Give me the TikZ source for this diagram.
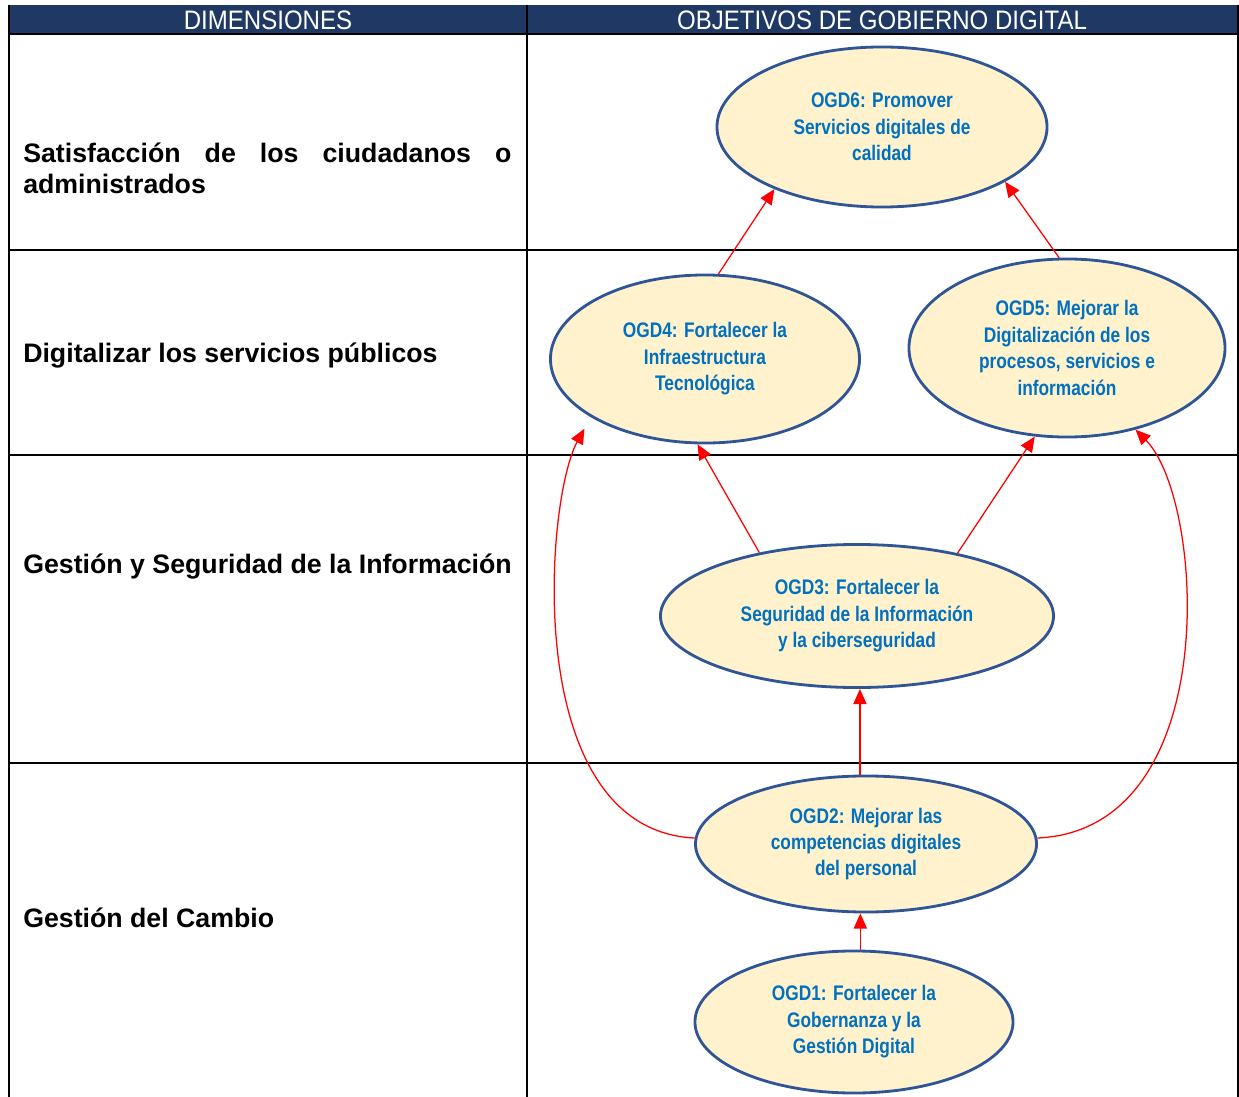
\documentclass[tikz,border=0pt]{standalone}
\usepackage{fontspec}
\setmainfont{Liberation Sans}
\newfontfamily\narrowfont[FakeStretch=0.82]{Liberation Sans}
\newfontfamily\headfont[FakeStretch=0.9]{Liberation Sans}
\usetikzlibrary{shapes.geometric,arrows.meta}
\definecolor{headblue}{RGB}{31,56,100}
\definecolor{ogdfill}{RGB}{255,242,204}
\definecolor{ogdline}{RGB}{47,85,151}
\definecolor{ogdtext}{RGB}{0,112,192}
\hyphenpenalty=10000
\exhyphenpenalty=10000

\begin{document}
\begin{tikzpicture}[x=0.025cm,y=-0.025cm]
\tikzstyle{ogd}=[ellipse,draw=ogdline,line width=2pt,fill=ogdfill,inner sep=0pt,
  text=ogdtext,align=center,font=\narrowfont\bfseries\fontsize{15pt}{18.8pt}\selectfont]
\tikzstyle{dim}=[anchor=west,inner sep=0pt,font=\bfseries\fontsize{19pt}{22pt}\selectfont]
\tikzstyle{head}=[text=white,inner sep=0pt,font=\headfont\fontsize{19pt}{20pt}\selectfont]
\tikzstyle{link}=[red,line width=0.9pt,-{Triangle[length=0.38cm,width=0.33cm]}]
\tikzstyle{rule}=[line width=1.4pt]

\useasboundingbox (0,0) rectangle (1239,1097);

\fill[headblue] (9,5) rectangle (1238,34);
\draw[rule] (9,5) -- (9,1097);
\draw[rule] (527,5) -- (527,1097);
\draw[rule] (1238,5) -- (1238,1097);
\draw[rule] (9,34) -- (1238,34);
\draw[rule] (9,250) -- (1238,250);
\draw[rule] (9,455) -- (1238,455);
\draw[rule] (9,763) -- (1238,763);

\node[head] (hdim) at (268,20) {DIMENSIONES};
\node[head] (hobj) at (882,20) {OBJETIVOS DE GOBIERNO DIGITAL};

\node[dim,text width=12.2cm,align=justify] (dim1) at (23,168)
  {Satisfacción de los ciudadanos o administrados};
\node[dim] (dim2) at (23,356) {Digitalizar los servicios públicos};
\node[dim] (dim3) at (23,567) {Gestión y Seguridad de la Información};
\node[dim] (dim4) at (23,918) {Gestión del Cambio};

\node[ogd,minimum width=8.25cm,minimum height=4cm] (ogd6) at (882,127)
  {OGD6: Promover\\Servicios digitales de\\calidad};
\node[ogd,minimum width=7.725cm,minimum height=4.2cm] (ogd4) at (705,359)
  {OGD4: Fortalecer la\\Infraestructura\\Tecnológica};
\node[ogd,minimum width=7.9cm,minimum height=4.45cm] (ogd5) at (1067,348)
  {OGD5: Mejorar la\\Digitalización de los\\procesos, servicios e\\información};
\node[ogd,minimum width=9.825cm,minimum height=3.575cm] (ogd3) at (857,616)
  {OGD3: Fortalecer la\\Seguridad de la Información\\y la ciberseguridad};
\node[ogd,minimum width=8.525cm,minimum height=3.4cm] (ogd2) at (866,844)
  {OGD2: Mejorar las\\competencias digitales\\del personal};
\node[ogd,minimum width=7.95cm,minimum height=3.55cm] (ogd1) at (854,1022)
  {OGD1: Fortalecer la\\Gobernanza y la\\Gestión Digital};

\draw[link] (ogd4.81) -- (ogd6.210);
\draw[link] (ogd5.95) -- (ogd6.336);
\draw[link] (ogd3.147) -- (ogd4.265);
\draw[link] (ogd3.32) -- (ogd5.250);
\draw[link] (ogd2.95) -- (ogd2.95 |- ogd3.south);
\draw[link] (ogd1.85) -- (ogd1.85 |- ogd2.south);
\draw[link,shorten >=0.33cm] (ogd2.178) .. controls (520,830) and (545,500) .. (ogd4.207);
\draw[link] (ogd2.2) .. controls (1225,830) and (1205,500) .. (ogd5.310);
\end{tikzpicture}
\end{document}
